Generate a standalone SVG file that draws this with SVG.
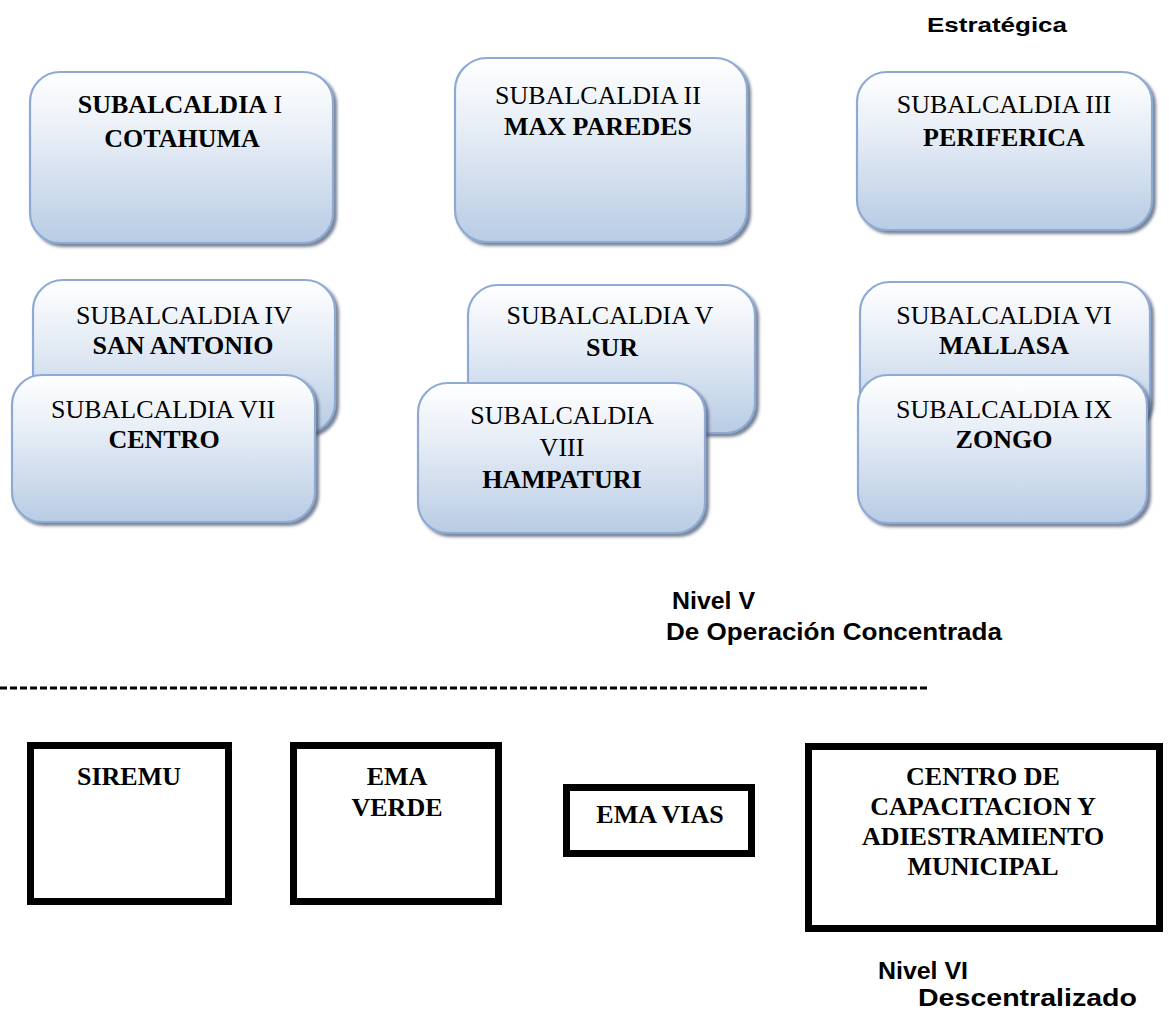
<svg xmlns="http://www.w3.org/2000/svg" width="1169" height="1014" viewBox="0 0 1169 1014">
<defs>
<linearGradient id="g" x1="0" y1="0" x2="0" y2="1">
<stop offset="0" stop-color="#ffffff"/>
<stop offset="0.35" stop-color="#e9eff7"/>
<stop offset="1" stop-color="#b8cce4"/>
</linearGradient>
<filter id="sh" x="-10%" y="-10%" width="125%" height="125%">
<feDropShadow dx="3" dy="3" stdDeviation="1.5" flood-color="#3f4f6a" flood-opacity="0.7"/>
</filter>
<style>
.rb{fill:url(#g);stroke:#8eaad4;stroke-width:2.2;filter:url(#sh)}
.bx{fill:#ffffff;stroke:#000000;stroke-width:7}
.t{font-family:"Liberation Serif","Times New Roman",serif;font-size:26px;fill:#000;text-anchor:middle}
.b{font-weight:bold}
.lab{font-family:"Liberation Sans",Arial,sans-serif;font-weight:bold;fill:#000}
</style>
</defs>
<rect width="1169" height="1014" fill="#ffffff"/>

<g id="label-estrategica"><text class="lab" x="927" y="32" font-size="21" textLength="140" lengthAdjust="spacingAndGlyphs">Estratégica</text></g>

<g id="sub1">
<rect class="rb" x="30" y="72" width="303" height="171" rx="30"/>
<text class="t" x="180" y="113"><tspan class="b">SUBALCALDIA</tspan> I</text>
<text class="t b" x="182" y="147">COTAHUMA</text>
</g>
<g id="sub2">
<rect class="rb" x="455" y="58" width="292" height="184" rx="32"/>
<text class="t" x="598" y="104">SUBALCALDIA II</text>
<text class="t b" x="598" y="135">MAX PAREDES</text>
</g>
<g id="sub3">
<rect class="rb" x="857" y="72" width="295" height="158" rx="30"/>
<text class="t" x="1004" y="113">SUBALCALDIA III</text>
<text class="t b" x="1004" y="146">PERIFERICA</text>
</g>

<g id="sub4">
<rect class="rb" x="33" y="280" width="302" height="153" rx="30"/>
<text class="t" x="184" y="324">SUBALCALDIA IV</text>
<text class="t b" x="183" y="354">SAN ANTONIO</text>
</g>
<g id="sub7">
<rect class="rb" x="12" y="375" width="303" height="147" rx="30"/>
<text class="t" x="163" y="418">SUBALCALDIA VII</text>
<text class="t b" x="164" y="448">CENTRO</text>
</g>

<g id="sub5">
<rect class="rb" x="468" y="285" width="287" height="148" rx="30"/>
<text class="t" x="610" y="324">SUBALCALDIA V</text>
<text class="t b" x="612" y="356">SUR</text>
</g>
<g id="sub8">
<rect class="rb" x="418" y="383" width="287" height="150" rx="30"/>
<text class="t" x="562" y="424">SUBALCALDIA</text>
<text class="t" x="562" y="456">VIII</text>
<text class="t b" x="562" y="488">HAMPATURI</text>
</g>

<g id="sub6">
<rect class="rb" x="860" y="282" width="290" height="148" rx="30"/>
<text class="t" x="1004" y="324">SUBALCALDIA VI</text>
<text class="t b" x="1004" y="354">MALLASA</text>
</g>
<g id="sub9">
<rect class="rb" x="858" y="375" width="289" height="148" rx="30"/>
<text class="t" x="1004" y="418">SUBALCALDIA IX</text>
<text class="t b" x="1004" y="448">ZONGO</text>
</g>

<g id="label-nivel5">
<text class="lab" x="672" y="609" font-size="23" textLength="83" lengthAdjust="spacingAndGlyphs">Nivel V</text>
<text class="lab" x="666" y="640" font-size="23" textLength="336" lengthAdjust="spacingAndGlyphs">De Operación Concentrada</text>
</g>

<g id="connectors">
<line x1="0" y1="688" x2="930" y2="688" stroke="#000" stroke-width="3" stroke-dasharray="7 3"/>
</g>

<g id="siremu">
<rect class="bx" x="30.5" y="745.5" width="198" height="156"/>
<text class="t b" x="129" y="785">SIREMU</text>
</g>
<g id="emaverde">
<rect class="bx" x="293.5" y="745.5" width="205" height="156"/>
<text class="t b" x="397" y="785">EMA</text>
<text class="t b" x="397" y="816">VERDE</text>
</g>
<g id="emavias">
<rect class="bx" x="566.5" y="787.5" width="185" height="66"/>
<text class="t b" x="660" y="823">EMA VIAS</text>
</g>
<g id="centro">
<rect class="bx" x="808.5" y="746.5" width="351" height="182"/>
<text class="t b" x="983" y="785">CENTRO DE</text>
<text class="t b" x="983" y="815">CAPACITACION Y</text>
<text class="t b" x="983" y="845">ADIESTRAMIENTO</text>
<text class="t b" x="983" y="875">MUNICIPAL</text>
</g>

<g id="label-nivel6">
<text class="lab" x="878" y="979" font-size="24" textLength="90" lengthAdjust="spacingAndGlyphs">Nivel VI</text>
<text class="lab" x="918" y="1006" font-size="24" textLength="219" lengthAdjust="spacingAndGlyphs">Descentralizado</text>
</g>
</svg>
